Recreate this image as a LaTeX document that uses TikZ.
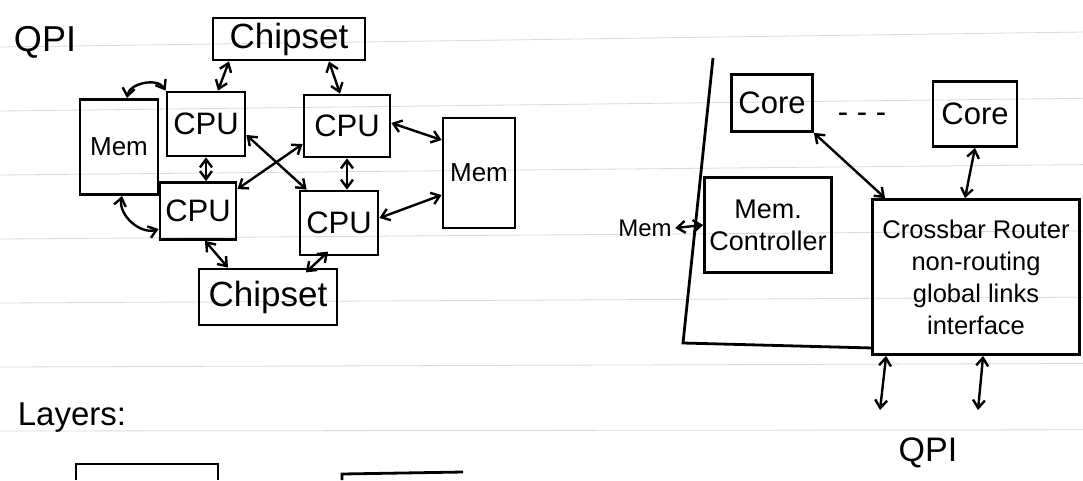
\documentclass[tikz,border=0pt]{standalone}
\usepackage{fontspec}
\setmainfont{Liberation Sans}
\usetikzlibrary{arrows.meta,positioning}

\begin{document}
\begin{tikzpicture}[x=1pt,y=-1pt,>={Straight Barb[length=8pt,width=12pt]},
  every node/.style={font=\fontsize{31}{34}\selectfont,align=center},
  box/.style={draw,line width=2.8pt,inner sep=0pt},
  link/.style={<->,line width=2.4pt},
  rule/.style={draw=gray!30,line width=0.8pt}]
\useasboundingbox (0,0) rectangle (1083,480);
% ruled paper
\foreach \k in {0,...,6}
  \draw[rule] (0,{47+64*\k}) -- (1083,{32+66.3*\k});

% QPI topology
\node (qpi) at (45,42) [font=\fontsize{36}{38}\selectfont] {QPI};
\node (chipT) at (289,39) [box,minimum width=152pt,minimum height=42pt,font=\fontsize{35}{38}\selectfont] {Chipset};
\node (cpuTL) at (206,124) [box,minimum width=78pt,minimum height=64pt] {CPU};
\node (cpuTR) at (347,126) [box,minimum width=86pt,minimum height=62pt] {CPU};
\node (cpuBL) at (198,211) [box,minimum width=76pt,minimum height=57pt] {CPU};
\node (cpuBR) at (339,223) [box,minimum width=78pt,minimum height=64pt] {CPU};
\node (memL) at (119,147) [box,minimum width=78pt,minimum height=95pt,font=\fontsize{26}{30}\selectfont] {Mem};
\node (memR) at (479,173) [box,minimum width=72pt,minimum height=110pt,font=\fontsize{26}{30}\selectfont] {Mem};
\node (chipB) at (268,297) [box,minimum width=138pt,minimum height=56pt,font=\fontsize{35}{38}\selectfont] {Chipset};

\draw[link] ([xshift=-60pt]chipT.south) -- ([xshift=12pt]cpuTL.north);
\draw[link] ([xshift=40pt]chipT.south) -- ([xshift=-7pt]cpuTR.north);
\draw[link] (cpuTL.south) -- (cpuTL.south |- cpuBL.north);
\draw[link] (cpuTR.south) -- (cpuTR.south |- cpuBR.north);
\draw[link] ([yshift=-11pt]cpuTL.east) -- ([xshift=8pt]cpuBR.north west);
\draw[link] ([yshift=-8pt]cpuBL.north east) -- ([yshift=-18pt]cpuTR.west);
\draw[link] (cpuTL.north west) to[bend right=70] ([xshift=8pt]memL.north);
\draw[link] ([xshift=3pt]memL.south) to[bend right=60] ([yshift=-18pt]cpuBL.west);
\draw[link] ([yshift=3pt]cpuTR.east) -- ([yshift=33pt]memR.west);
\draw[link] ([yshift=5pt]cpuBR.east) -- ([yshift=-22pt]memR.west);
\draw[link] ([xshift=7pt]cpuBL.south) -- ([xshift=-40pt]chipB.north);
\draw[link,shorten <=-7pt,shorten >=-7pt] ([xshift=-16pt]cpuBR.south) -- ([xshift=43pt]chipB.north);

% chip internals
\draw[line width=2.8pt] (713,58) -- (683,343) -- (873,348);
\node (coreL) at (772,103) [box,minimum width=81pt,minimum height=57pt] {Core};
\node (dots) at (862,118) {- - -};
\node (coreR) at (975,114) [box,minimum width=84pt,minimum height=65pt] {Core};
\node (memctl) at (768,225) [box,minimum width=127pt,minimum height=95pt,font=\fontsize{27}{32}\selectfont] {Mem.\\Controller};
\node (memlbl) at (645,228) [font=\fontsize{24}{28}\selectfont] {Mem};
\node (xbar) at (976,277) [box,minimum width=207pt,minimum height=155pt,font=\fontsize{25.5}{32}\selectfont] {Crossbar Router\\non-routing\\global links\\interface};
\coordinate (q1) at (880,410);
\coordinate (q2) at (978,410);
\node (qpiR) at (928,453) [font=\fontsize{34}{36}\selectfont] {QPI};

\draw[link] (memctl.west) -- (memlbl.east);
\draw[link] (coreL.south east) -- ([xshift=14pt]xbar.north west);
\draw[link] (coreR.south) -- ([xshift=-11pt]xbar.north);
\draw[link] ([xshift=15pt]xbar.south west) -- (q1);
\draw[link] ([xshift=112pt]xbar.south west) -- (q2);

% layers
\node (layers) at (72,418) [font=\fontsize{33}{36}\selectfont] {Layers:};
\draw[line width=2.8pt] (76,480) |- (218,464) -- (218,480);
\draw[line width=2.8pt] (342,480) -- (342,474) -- (463,472);
\end{tikzpicture}
\end{document}
